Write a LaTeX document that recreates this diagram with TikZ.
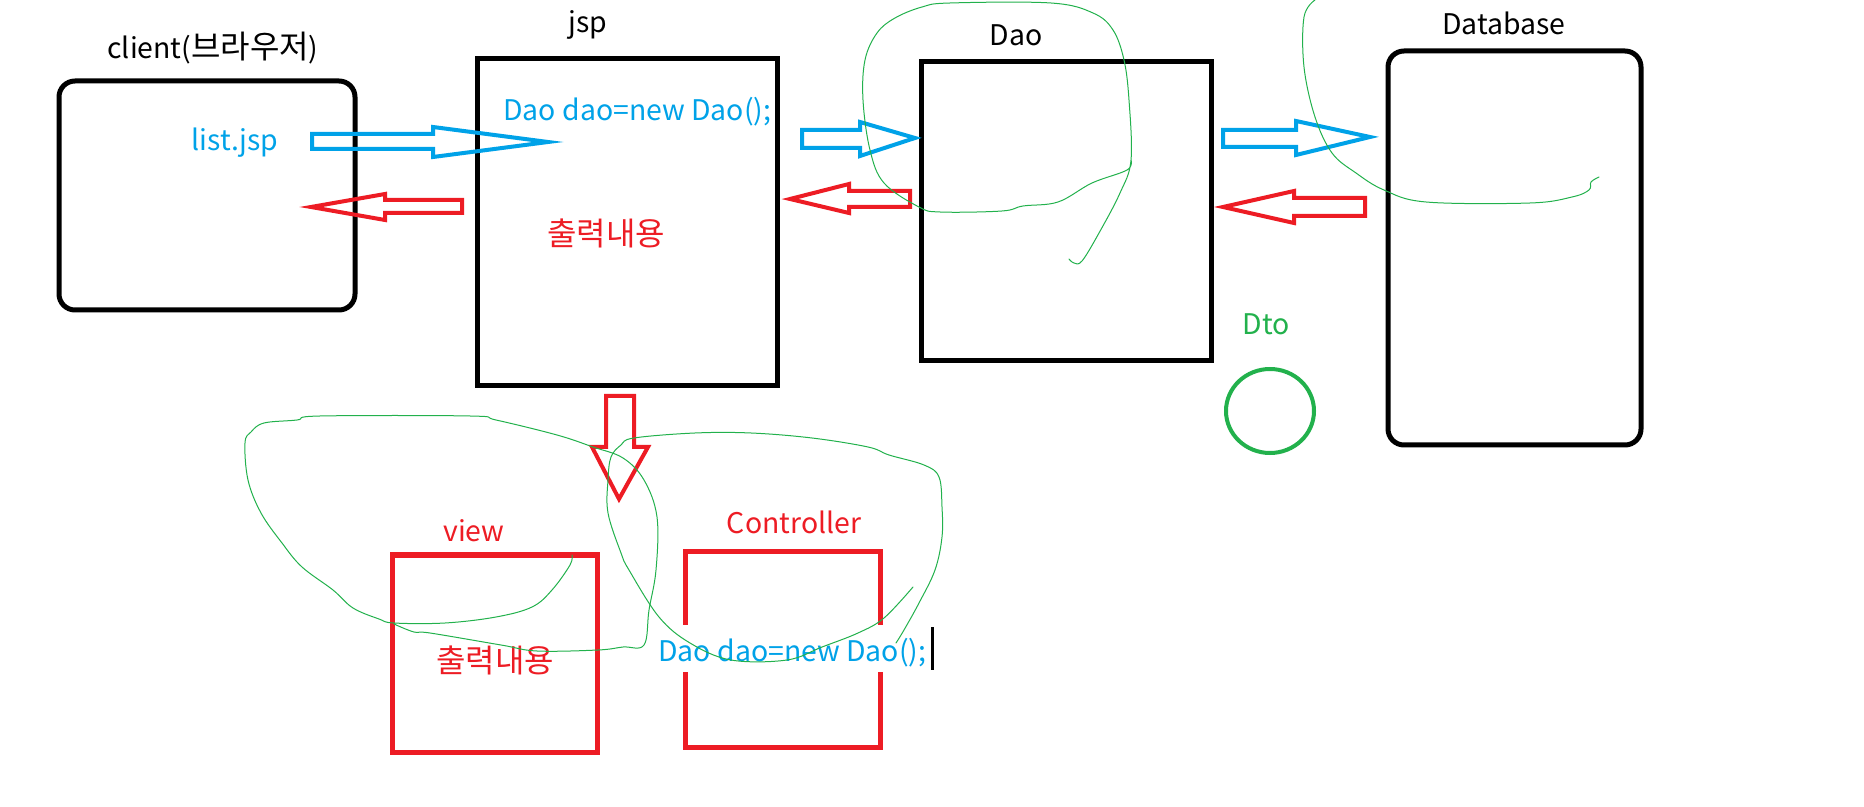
\documentclass[tikz,border=0pt]{standalone}
\usepackage{fontspec}
\setmainfont{Noto Sans CJK KR}
\usetikzlibrary{shapes.geometric}
\definecolor{pblue}{HTML}{00A2E8}
\definecolor{pred}{HTML}{ED1C24}
\definecolor{pgreen}{HTML}{22B14C}
\newcommand{\kr}[1]{{\fontsize{16pt}{18pt}\selectfont #1}}
\begin{document}
\begin{tikzpicture}[x=0.5pt,y=-0.5pt,
 every node/.style={font=\fontsize{14.2pt}{16pt}\selectfont},
 lbl/.style={inner sep=0pt, anchor=base},
 bbox/.style={draw=black, line width=2.5pt, inner sep=0pt},
 rbox/.style={draw=pred, line width=2.5pt, inner sep=0pt},
 barrow/.style={draw=pblue, line width=2pt, line join=miter},
 rarrow/.style={draw=pred, line width=2pt, line join=miter},
 scrib/.style={draw=pgreen, line width=0.5pt, line join=round, line cap=round},
]
\useasboundingbox (0,0) rectangle (1864,807);

% boxes
\node[bbox, rounded corners=8pt, minimum width=148pt, minimum height=114.5pt] (client) at (207,195.5) {};
\node[bbox, minimum width=150pt, minimum height=163.5pt] (jsp) at (627,222.5) {};
\node[bbox, minimum width=145pt, minimum height=149.5pt] (dao) at (1066,211.5) {};
\node[bbox, rounded corners=8pt, minimum width=126.5pt, minimum height=197pt] (db) at (1514.5,248) {};
\node[rbox, minimum width=102.5pt, minimum height=98.5pt] (view) at (494.5,653.5) {};
\node[rbox, minimum width=97.5pt, minimum height=97.5pt] (ctrl) at (782.5,649.5) {};
\node[draw=pgreen, line width=2pt, ellipse, inner sep=0pt, minimum width=44pt, minimum height=42pt] (dto) at (1270,411) {};

% labels
\node[lbl] (clientlbl) at (213,59) {client(\kr{브라우저})};
\node[lbl] (jsplbl) at (588,33) {jsp};
\node[lbl] (daolbl) at (1016,46) {Dao};
\node[lbl] (dblbl) at (1504,35) {Database};
\node[lbl, text=pgreen] (dtolbl) at (1266,335) {Dto};
\node[lbl, text=pred] (viewlbl) at (474,542) {view};
\node[lbl, text=pred] (ctrllbl) at (794,533) {Controller};

\node[lbl, text=pblue] (listjsp) at (235,151) {list.jsp};
\node[lbl, text=pblue, anchor=base west] (jspcode) at (503,121) {Dao dao=new Dao();};
\node[inner sep=0pt, text=pred] (jspout) at (606,233) {\kr{출력내용}};
\node[inner sep=0pt, text=pred] (viewout) at (495,660) {\kr{출력내용}};

% controller code with white background over the box sides
\fill[white] (655,625) rectangle (931,672);
\node[lbl, text=pblue, anchor=base west] (ctrlcode) at (658,661) {Dao dao=new Dao();};
\draw[line width=1.5pt] (932,627) -- (932,670);

% block arrows
\draw[barrow] (312,134) -- (433,134) -- (433,127) -- (548,142) -- (433,157) -- (433,149) -- (312,149) -- cycle;
\draw[barrow] (802,130) -- (860,130) -- (860,122) -- (915,138) -- (860,156) -- (860,148) -- (802,148) -- cycle;
\draw[barrow] (1223,130) -- (1296,130) -- (1296,121) -- (1370,137) -- (1296,155) -- (1296,147) -- (1223,147) -- cycle;
\draw[rarrow] (462,200) -- (385,200) -- (385,194) -- (311,207) -- (385,220) -- (385,213) -- (462,213) -- cycle;
\draw[rarrow] (910,191) -- (849,191) -- (849,184) -- (790,199) -- (849,213) -- (849,207) -- (910,207) -- cycle;
\draw[rarrow] (1365,198) -- (1294,198) -- (1294,191) -- (1223,207) -- (1294,223) -- (1294,216) -- (1365,216) -- cycle;
\draw[rarrow] (606,396) -- (634,396) -- (634,447) -- (648,447) -- (619,499) -- (592,447) -- (606,447) -- cycle;

% green scribbles
\draw[scrib] plot[smooth, tension=0.6] coordinates {(1069,259) (1074,263) (1082,261) (1099,233) (1120,193) (1131,160) (1129,100) (1124,60) (1113,30) (1093,13) (1051,3) (950,3) (922,7) (895,18) (877,33) (865,60) (863,100) (870,150) (884,183) (919,207) (940,212) (1002,211) (1023,206) (1058,202) (1092,183) (1127,170) (1131,160)};
\draw[scrib] plot[smooth, tension=0.6] coordinates {(1315,0) (1304,17) (1304,67) (1315,117) (1332,153) (1356,173) (1384,190) (1426,202) (1530,203) (1572,197) (1589,190) (1591,182) (1599,177)};
\draw[scrib] plot[smooth, tension=0.6] coordinates {(572,555) (570,565) (552,590) (532,607) (496,617) (445,623) (394,623) (379,619) (353,608) (333,590) (302,567) (282,543) (261,513) (248,480) (245,443) (251,432) (264,423) (297,420) (320,416) (470,416) (496,420) (557,435) (593,447) (623,458) (644,480) (657,517) (656,570) (649,610) (644,645) (623,647) (598,650) (537,651) (501,645) (430,633) (414,632) (394,624)};
\draw[scrib] plot[smooth, tension=0.6] coordinates {(913,587) (884,618) (858,633) (822,647) (787,660) (731,660) (690,643) (659,617) (629,570) (621,553) (608,513) (608,480) (611,457) (621,445) (634,438) (695,433) (751,433) (812,438) (868,447) (889,455) (924,465) (939,477) (942,507) (942,537) (935,570) (919,603) (904,630) (896,643)};
\end{tikzpicture}
\end{document}
